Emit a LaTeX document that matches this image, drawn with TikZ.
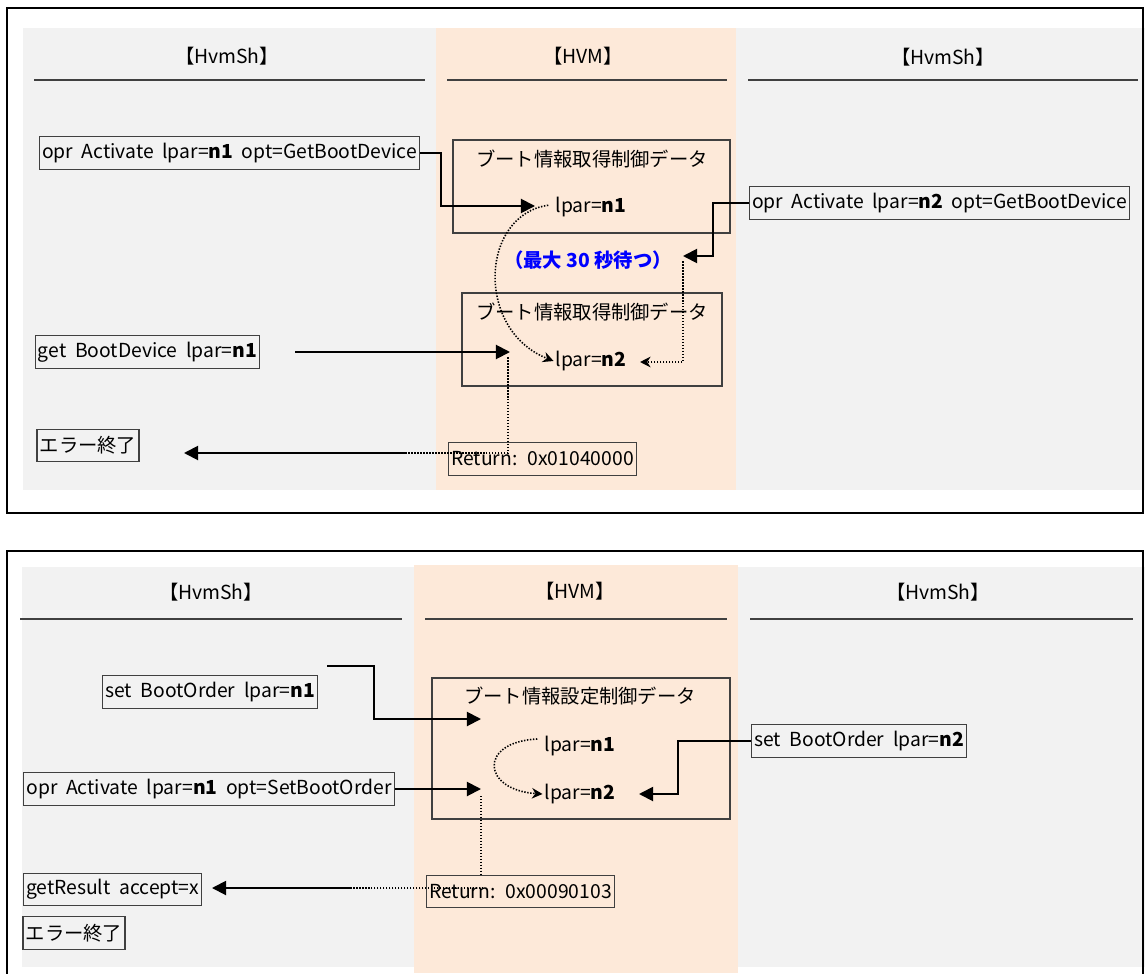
\documentclass[tikz,border=0pt]{standalone}
\usepackage{fontspec}
\setmainfont{Noto Sans CJK JP}
\usetikzlibrary{arrows.meta}
\definecolor{shbg}{HTML}{F2F2F2}
\definecolor{hvmbg}{HTML}{FDE9D9}
\definecolor{boxline}{HTML}{404040}
\tikzset{
  txt/.style={font=\fontsize{11}{13}\selectfont,inner sep=0pt},
  cmdbox/.style={txt,draw=boxline,line width=0.7pt,inner xsep=1.5pt,minimum height=18.5pt},
  databox/.style={draw=boxline,line width=0.8pt},
  hdrline/.style={draw=black!75,line width=0.8pt},
  solidarr/.style={line width=1.1pt,-{Triangle[length=8pt,width=8pt]}},
  dotline/.style={line width=0.9pt,dash pattern=on 0.8pt off 0.9pt},
  dotarr/.style={dotline,-{Stealth[length=6pt,width=6pt]}},
}

\begin{document}
\begin{tikzpicture}[x=0.02cm,y=-0.02cm]
\useasboundingbox (0,0) rectangle (1145,973);

% upper panel
\fill[shbg] (23,28) rectangle (1145,490);
\fill[hvmbg] (436,28) rectangle (736,490);
\draw[line width=1.2pt] (7,8) rectangle (1143,513);
\node[txt] (shA) at (227,56) {【HvmSh】};
\node[txt] (hvmA) at (583,56) {【HVM】};
\node[txt] (shB) at (943,57) {【HvmSh】};
\draw[hdrline] (34,80) -- (425,80) (447,80) -- (727,80) (748,80) -- (1138,80);

\node[databox,minimum width=5.54cm,minimum height=1.86cm] (dataA) at (591.5,186.5) {};
\node[txt] (ttlA) at (592,159) {ブート情報取得制御データ};
\node[txt] (lparA1) at (591,207) {lpar=\textbf{n1}};
\node[databox,minimum width=5.2cm,minimum height=1.86cm] (dataB) at (592,339.5) {};
\node[txt] (ttlB) at (592,312) {ブート情報取得制御データ};
\node[txt] (lparA2) at (591,361) {lpar=\textbf{n2}};
\node[txt,text=blue,font=\fontsize{11}{13}\selectfont\bfseries] (wait) at (588,260) {（最大 30 秒待つ）};

\node[cmdbox] (oprA) at (229.5,153) {opr~ Activate~ lpar=\textbf{n1}~ opt=GetBootDevice};
\node[cmdbox] (oprB) at (939.5,203) {opr~ Activate~ lpar=\textbf{n2}~ opt=GetBootDevice};
\node[cmdbox] (getA) at (147.5,352) {get~ BootDevice~ lpar=\textbf{n1}};
\node[cmdbox] (errA) at (88,445.5) {エラー終了};
\node[cmdbox] (retA) at (542.5,459) {Return:~ 0x01040000};

\coordinate (tipA) at (535,206);
\coordinate (tipB) at (683,256);
\coordinate (tipC) at (640,362);
\coordinate (tipD) at (510,352);
\coordinate (turnA) at (406,453);
\coordinate (tipE) at (184,453);

\draw[solidarr] (oprA.east) -- ++(21,0) |- (tipA);
\draw[solidarr] (oprB.west) -- ++(-36,0) |- (tipB);
\draw[dotarr] ([yshift=-3pt]tipB) |- (tipC);
\draw[dotarr] ([xshift=-4pt,yshift=1pt]lparA1.west) .. controls (480,215) and (475,330) .. ([xshift=-1pt]lparA2.west);
\draw[solidarr] ([xshift=20pt]getA.east) -- (tipD);
\draw[dotline] ([xshift=-1pt,yshift=-3pt]tipD) |- (turnA);
\draw[solidarr] (turnA) -- (tipE);

% lower panel
\fill[shbg] (22,567) rectangle (1145,967);
\fill[hvmbg] (414,565) rectangle (738,973);
\draw[line width=1.2pt] (7,551) rectangle (1143,990);
\node[txt] (shC) at (211,592) {【HvmSh】};
\node[txt] (hvmB) at (575,591) {【HVM】};
\node[txt] (shD) at (938,592) {【HvmSh】};
\draw[hdrline] (20,619) -- (402,619) (425,619) -- (727,619) (750,619) -- (1133,619);

\node[databox,minimum width=5.96cm,minimum height=2.82cm] (dataC) at (581,748.5) {};
\node[txt] (ttlC) at (580,696) {ブート情報設定制御データ};
\node[txt] (lparB1) at (580,746) {lpar=\textbf{n1}};
\node[txt] (lparB2) at (580,794) {lpar=\textbf{n2}};

\node[cmdbox] (setA) at (210,692) {set~ BootOrder~ lpar=\textbf{n1}};
\node[cmdbox] (setB) at (859,741) {set~ BootOrder~ lpar=\textbf{n2}};
\node[cmdbox] (oprC) at (209,789) {opr~ Activate~ lpar=\textbf{n1}~ opt=SetBootOrder};
\node[cmdbox] (retB) at (520.5,891.5) {Return:~ 0x00090103};
\node[cmdbox] (resA) at (112.5,889.5) {getResult~ accept=x};
\node[cmdbox] (errB) at (74,933) {エラー終了};

\coordinate (startF) at (327,666);
\coordinate (tipF) at (481,719);
\coordinate (tipG) at (481,789);
\coordinate (tipH) at (639,794);
\coordinate (dotB) at (483,888);
\coordinate (turnB) at (352,888);
\coordinate (tipI) at (212,888);

\draw[solidarr] (startF) -- ++(47,0) |- (tipF);
\draw[solidarr] (oprC.east) -- (oprC.east -| tipG);
\draw[solidarr] (setB.west) -- ++(-73,0) |- (tipH);
\draw[dotarr] ([xshift=-4pt,yshift=4pt]lparB1.west) .. controls (478,742) and (482,790) .. ([xshift=-1pt]lparB2.west);
\draw[dotline] ([yshift=-4pt]tipG) -- (tipG |- retB.north);
\draw[dotline] (dotB) -- (turnB);
\draw[solidarr] (turnB) -- (tipI);
\end{tikzpicture}
\end{document}
